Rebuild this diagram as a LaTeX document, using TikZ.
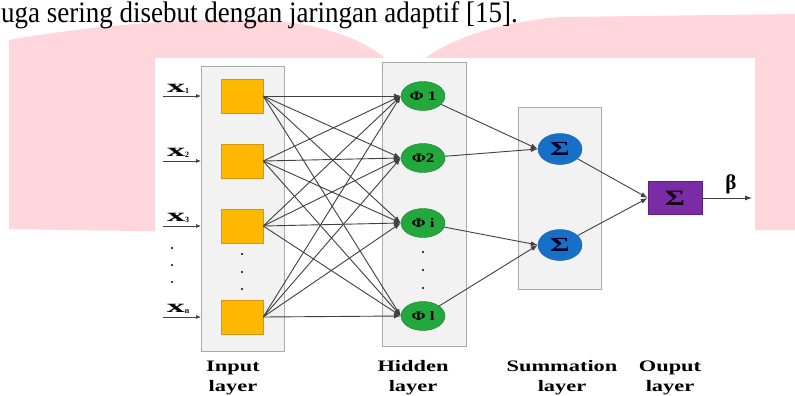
\documentclass[tikz,border=0pt]{standalone}
\usepackage{fontspec}
\setmainfont{Liberation Serif}
\usepackage{graphicx}
\usetikzlibrary{shapes.geometric,arrows.meta}
\definecolor{wmpink}{RGB}{255,214,219}
\definecolor{boxfill}{RGB}{242,242,242}
\definecolor{boxline}{RGB}{170,170,170}
\definecolor{infill}{RGB}{255,184,0}
\definecolor{inline}{RGB}{214,150,20}
\definecolor{hidfill}{RGB}{34,168,60}
\definecolor{hidline}{RGB}{24,130,45}
\definecolor{sumfill}{RGB}{22,112,200}
\definecolor{sumline}{RGB}{14,90,165}
\definecolor{outfill}{RGB}{122,43,165}
\definecolor{outline}{RGB}{94,31,130}
\definecolor{wireclr}{RGB}{64,64,64}
\newcommand{\stretchx}[2][1.4]{\scalebox{#1}[1]{#2}}
\tikzset{%
    every node/.style={font=\bfseries},
    layerbox/.style={draw=boxline, fill=boxfill},
    inunit/.style={rectangle, draw=inline, fill=infill, minimum width=42pt,
        minimum height=34pt, inner sep=0pt},
    hidunit/.style={ellipse, draw=hidline, fill=hidfill, minimum width=44pt,
        minimum height=29pt, inner sep=0pt, font=\bfseries\fontsize{13}{13}\selectfont},
    sumunit/.style={ellipse, draw=sumline, fill=sumfill, minimum width=44pt,
        minimum height=31pt, inner sep=0pt, text=black!85!blue,
        font=\bfseries\fontsize{20}{20}\selectfont},
    outunit/.style={rectangle, draw=outline, fill=outfill, minimum width=54pt,
        minimum height=33pt, inner sep=0pt, text=black!85!violet,
        font=\bfseries\fontsize{22}{22}\selectfont},
    wire/.style={draw=wireclr, line width=0.9pt, -{Latex[length=7pt,width=5pt]}},
    dotnode/.style={circle, fill=black, inner sep=0pt, minimum size=2.4pt},
    caption/.style={align=center, inner sep=0pt,
        font=\bfseries\fontsize{16}{20}\selectfont},
    xlabel/.style={inner sep=0pt, font=\bfseries\fontsize{18}{18}\selectfont}
}

\begin{document}
\begin{tikzpicture}[x=1pt, y=-1pt]
  \useasboundingbox (0,0) rectangle (795,396);
  % watermark behind the figure
  \fill[wmpink] (9,229) -- (9,40) .. controls (110,22) and (240,14) .. (300,24)
     .. controls (345,32) and (370,45) .. (390,62) -- (390,235) -- cycle;
  \fill[wmpink] (420,62) .. controls (450,38) and (500,22) .. (560,17)
     -- (795,14) -- (795,230) -- (420,230) -- cycle;
  \fill[white] (155,58) rectangle (755,396);

  \node (txt) [anchor=base west, inner sep=0pt, font=\fontsize{27}{27}\selectfont]
     at (1,23) {\scalebox{1}[1.1]{uga sering disebut dengan jaringan adaptif [15].}};

  % layers
  \draw[layerbox] (201,66) rectangle (284,351);
  \draw[layerbox] (382,62) rectangle (466,346);
  \draw[layerbox] (518,107) rectangle (601,289);

  \node (i1) [inunit] at (242,96) {};
  \node (i2) [inunit] at (242,161) {};
  \node (i3) [inunit] at (242,226) {};
  \node (in) [inunit] at (242,317) {};

  \node (h1) [hidunit] at (423,96) {\stretchx[1.3]{Φ 1}};
  \node (h2) [hidunit] at (423,158) {\stretchx[1.3]{Φ2}};
  \node (hi) [hidunit] at (423,223) {\stretchx[1.3]{Φ i}};
  \node (hl) [hidunit] at (423,316) {\stretchx[1.3]{Φ l}};

  \node (s1) [sumunit] at (560,149) {\stretchx[1.5]{Σ}};
  \node (s2) [sumunit] at (560,245) {\stretchx[1.5]{Σ}};

  \node (o) [outunit] at (675,198) {\stretchx[1.4]{Σ}};
  \coordinate (beta) at (752,198);
  \node (lb) [inner sep=0pt, font=\bfseries\fontsize{21}{21}\selectfont]
     at (731,184) {β};

  % inputs
  \node (x1) [xlabel] at (178,89) {\stretchx[2]{x}\raisebox{-1pt}{\fontsize{8}{8}\selectfont 1}};
  \node (x2) [xlabel] at (178,153) {\stretchx[2]{x}\raisebox{-1pt}{\fontsize{8}{8}\selectfont 2}};
  \node (x3) [xlabel] at (178,218) {\stretchx[2]{x}\raisebox{-1pt}{\fontsize{8}{8}\selectfont 3}};
  \node (xn) [xlabel] at (178,309) {\stretchx[2]{x}\raisebox{-1pt}{\fontsize{8}{8}\selectfont n}};
  \foreach \k/\y in {1/96, 2/161, 3/226, n/317} {
    \coordinate (a\k) at (163,\y);
    \coordinate (b\k) at (201,\y);
    \draw[wire, line width=0.7pt, -{Latex[length=5pt,width=4pt]}] (a\k) -- (b\k);
  }

  % dots
  \foreach \y [count=\n] in {248, 265, 282}
    \node (dl\n) [dotnode] at (172,\y) {};
  \foreach \y [count=\n] in {254, 272, 289}
    \node (di\n) [dotnode] at (242,\y) {};
  \foreach \y [count=\n] in {252, 270, 288}
    \node (dh\n) [dotnode] at (423,\y) {};

  % connections
  \foreach \a in {1,2,3,n}
    \foreach \b in {1,2,i,l}
      \draw[wire] (i\a.east) -- (h\b.west);
  \draw[wire] (h1) -- (s1.west);
  \draw[wire] (h2) -- (s1.west);
  \draw[wire] (hi) -- (s2.west);
  \draw[wire] (hl) -- (s2.west);
  \draw[wire] (s1) -- (o.west);
  \draw[wire] (s2) -- (o.west);
  \draw[wire] (o) -- (beta);

  % captions
  \node (cin) [caption] at (233,378) {\stretchx{Input}\\\stretchx{layer}};
  \node (chid) [caption] at (413,378) {\stretchx{Hidden}\\\stretchx{layer}};
  \node (csum) [caption] at (562,378) {\stretchx{Summation}\\\stretchx{layer}};
  \node (cout) [caption] at (670,378) {\stretchx{Ouput}\\\stretchx{layer}};
\end{tikzpicture}
\end{document}
